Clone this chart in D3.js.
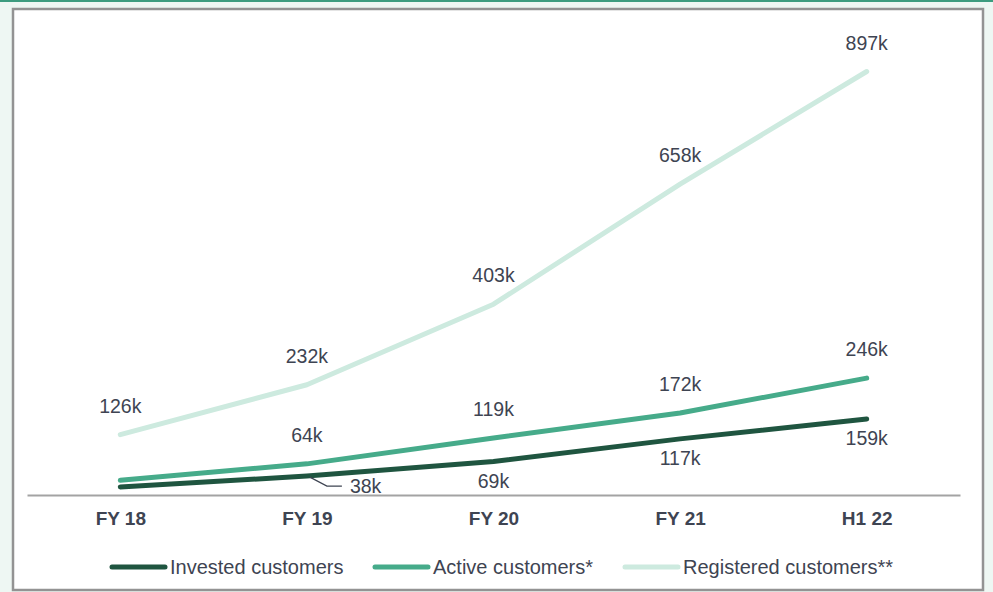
<!DOCTYPE html>
<html>
<head>
<meta charset="utf-8">
<script src="https://cdn.jsdelivr.net/npm/d3@7"></script>
<style>
  body { margin: 0; background: #eef7f3; }
  svg { display: block; font-family: "Liberation Sans", Arial, sans-serif; }
</style>
</head>
<body>
<div id="chart"></div>
<script>
// periods on the x axis
const periods = ["FY 18", "FY 19", "FY 20", "FY 21", "H1 22"];

// customers, in thousands
const invested = [15, 38, 69, 117, 159];
const active = [29, 64, 119, 172, 246];
const registered = [126, 232, 403, 658, 897];

// value labels shown (null = no label)
const investedLabels = [null, "38k", "69k", "117k", "159k"];
const activeLabels = [null, "64k", "119k", "172k", "246k"];
const registeredLabels = ["126k", "232k", "403k", "658k", "897k"];

const seriesNames = ["Invested customers", "Active customers*", "Registered customers**"];

const width = 993, height = 592;
const ink = "#3e4452";

const series = [
  { name: seriesNames[0], values: invested, labels: investedLabels, color: "#1f5540", below: true },
  { name: seriesNames[1], values: active, labels: activeLabels, color: "#46ab8a", below: false },
  { name: seriesNames[2], values: registered, labels: registeredLabels, color: "#cdeadf", below: false }
];

const svg = d3.select("#chart").append("svg")
  .attr("width", width)
  .attr("height", height);

// frame
svg.append("rect")
  .attr("x", 0).attr("y", 0)
  .attr("width", width).attr("height", 2)
  .attr("fill", "#3d9c7f");
svg.append("rect")
  .attr("x", 13).attr("y", 9)
  .attr("width", 970).attr("height", 581)
  .attr("fill", "#fff")
  .attr("stroke", "#939393")
  .attr("stroke-width", 2.5);

const x = d3.scalePoint()
  .domain(periods)
  .range([27, 960])
  .padding(0.5);

const y = d3.scaleLinear()
  .domain([0, 1000])
  .range([494, 23]);

// x axis
const xAxis = svg.append("g")
  .attr("transform", "translate(0,495)")
  .call(d3.axisBottom(x).tickSize(0).tickPadding(17));
xAxis.select(".domain")
  .attr("stroke", "#a3a3a3")
  .attr("stroke-width", 2);
xAxis.selectAll("text")
  .attr("fill", ink)
  .style("font-size", "19px")
  .style("font-weight", "bold")
  .style("font-family", "'Liberation Sans', Arial, sans-serif");

const line = d3.line()
  .x((d, i) => x(periods[i]))
  .y(d => y(d));

// draw back to front: registered, active, invested
series.slice().reverse().forEach(s => {
  svg.append("path")
    .datum(s.values)
    .attr("fill", "none")
    .attr("stroke", s.color)
    .attr("stroke-width", 5)
    .attr("stroke-linecap", "round")
    .attr("stroke-linejoin", "round")
    .attr("d", line);
});

// value labels
series.forEach(s => {
  s.values.forEach((v, i) => {
    const lab = s.labels[i];
    if (!lab) return;
    const px = x(periods[i]), py = y(v);
    if (s.below && i === 1) {
      // callout for the crowded point
      svg.append("path")
        .attr("d", `M${px + 3},${py + 1} L${px + 20},${py + 10} L${px + 35},${py + 10}`)
        .attr("fill", "none")
        .attr("stroke", ink)
        .attr("stroke-width", 1.2);
      svg.append("text")
        .attr("x", px + 43)
        .attr("y", py + 17)
        .attr("fill", ink)
        .style("font-size", "19.5px")
        .text(lab);
      return;
    }
    svg.append("text")
      .attr("x", px)
      .attr("y", s.below ? py + 26 : py - 22)
      .attr("text-anchor", "middle")
      .attr("fill", ink)
      .style("font-size", "19.5px")
      .text(lab);
  });
});

// legend
const legendX = [112, 375, 625];
series.forEach((s, i) => {
  const g = svg.append("g").attr("transform", `translate(${legendX[i]},567)`);
  g.append("line")
    .attr("x1", 0).attr("x2", 53)
    .attr("stroke", s.color)
    .attr("stroke-width", 5)
    .attr("stroke-linecap", "round");
  g.append("text")
    .attr("x", 58)
    .attr("y", 7)
    .attr("fill", ink)
    .style("font-size", "20px")
    .text(s.name);
});
</script>
</body>
</html>
